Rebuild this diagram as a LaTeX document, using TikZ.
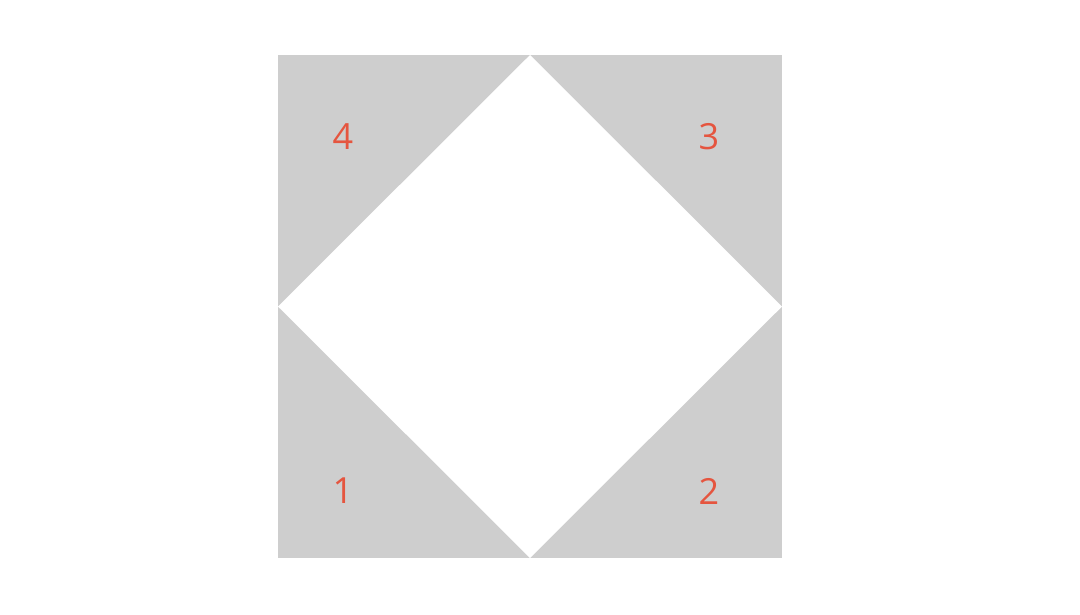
\documentclass[tikz,border=0pt]{standalone}
\usepackage{fontspec}
\setmainfont{Open Sans}
\definecolor{panelgray}{HTML}{CECECE}
\definecolor{digitred}{HTML}{E5553F}
\begin{document}
\begin{tikzpicture}[x=1pt,y=-1pt,
  digit/.style={text=digitred,font=\fontsize{36}{36}\selectfont,inner sep=0pt}]
\useasboundingbox[fill=white] (0,0) rectangle (1080,614);
\fill[panelgray] (278,55) rectangle (782,558);
\coordinate (top) at (530,55);
\coordinate (right) at (782,306.5);
\coordinate (bottom) at (530,558);
\coordinate (left) at (278,306.5);
\fill[white] (top) -- (right) -- (bottom) -- (left) -- cycle;
\node[digit] (d4) at (343,137) {4};
\node[digit] (d3) at (709,137) {3};
\node[digit] (d1) at (343,491) {1};
\node[digit] (d2) at (709,491) {2};
\end{tikzpicture}
\end{document}
